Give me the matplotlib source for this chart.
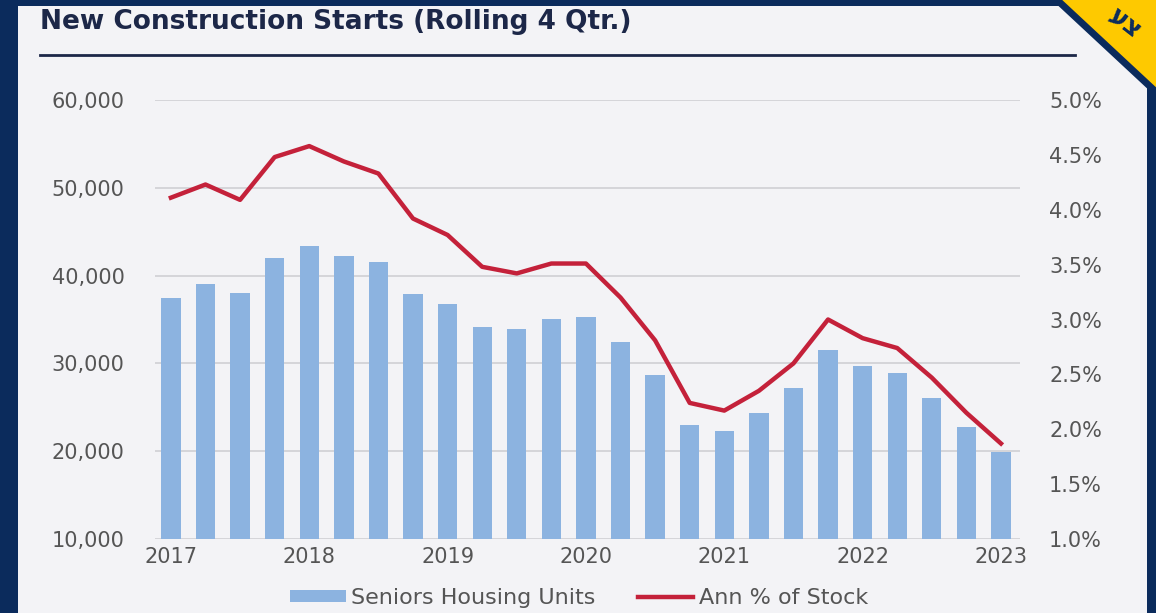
import matplotlib
matplotlib.use("Agg")
import matplotlib.pyplot as plt
from matplotlib.patches import Polygon, Rectangle
from matplotlib.lines import Line2D
import numpy as np

# Rolling four-quarter construction starts, 2017 Q1 - 2023 Q1
quarters = [f"{y}Q{q}" for y in range(2017, 2023) for q in range(1, 5)] + ["2023Q1"]
units = [37500, 39000, 38000, 42000, 43400, 42200, 41500, 37900, 36800,
         34200, 33900, 35100, 35300, 32400, 28700, 23000, 22300, 24400,
         27200, 31500, 29700, 28900, 26100, 22800, 19900]
pct_stock = [4.11, 4.23, 4.09, 4.48, 4.58, 4.44, 4.33, 3.92, 3.77, 3.48,
             3.42, 3.51, 3.51, 3.20, 2.81, 2.24, 2.17, 2.35, 2.60, 3.00,
             2.83, 2.74, 2.47, 2.15, 1.87]
year_labels = ["2017", "2018", "2019", "2020", "2021", "2022", "2023"]
left_ticks = [10000, 20000, 30000, 40000, 50000, 60000]
right_ticks = [1.0, 1.5, 2.0, 2.5, 3.0, 3.5, 4.0, 4.5, 5.0]

NAVY = "#0b2b5c"
PANEL = "#f3f3f6"
BAR = "#8cb3e0"
RED = "#c4213a"
GRID = "#d0d0d4"
TICK = "#555555"
YELLOW = "#fec900"

W, H = 1156, 613
fig = plt.figure(figsize=(W / 100, H / 100), dpi=100)
fig.patch.set_facecolor(NAVY)

def fx(px):
    return px / W

def fy(py):
    return 1 - py / H

# light panel inside the navy frame
fig.patches.append(Rectangle((fx(18), 0), fx(1147 - 18), fy(6), transform=fig.transFigure,
                             facecolor=PANEL, edgecolor="none", zorder=0))

# corner ribbon
corner = Polygon([(fx(1055), fy(0)), (fx(W), fy(0)), (fx(W), fy(90))],
                 closed=True, transform=fig.transFigure, facecolor=YELLOW,
                 edgecolor="none", zorder=1)
fig.patches.append(corner)
fig.lines.append(Line2D([fx(1055), fx(W)], [fy(-2), fy(92)], transform=fig.transFigure,
                        color=NAVY, lw=5, zorder=2))
fig.text(fx(1112), fy(12), "עצ", transform=fig.transFigure, rotation=-38,
         rotation_mode="anchor", fontsize=19, fontweight="bold", color=NAVY,
         ha="left", va="center", family=["DejaVu Sans"], zorder=3)

# title and rule
fig.text(fx(40), fy(22), "New Construction Starts (Rolling 4 Qtr.)", fontsize=19,
         fontweight="bold", color="#1c2748", ha="left", va="center", family="DejaVu Sans")
fig.lines.append(Line2D([fx(40), fx(1075)], [fy(55), fy(55)], transform=fig.transFigure,
                        color="#1c2748", lw=2))

ax = fig.add_axes([fx(155), fy(539), fx(1020 - 155), fy(100) - fy(539)])
ax.set_zorder(5)
ax.set_facecolor("none")
x = np.arange(len(quarters))
ax.bar(x, units, width=0.56, color=BAR, zorder=2, label="Seniors Housing Units")
ax.set_ylim(10000, 60000)
ax.set_xlim(-0.46, len(quarters) - 1 + 0.55)
ax.set_yticks(left_ticks)
ax.set_yticklabels([f"{v:,}" for v in left_ticks])
ax.yaxis.grid(True, color=GRID, lw=1.2, zorder=0)
ax.set_axisbelow(True)
ax.set_xticks(x[::4])
ax.set_xticklabels(year_labels)
for s in ax.spines.values():
    s.set_visible(False)
ax.tick_params(axis="both", length=0, labelsize=15, labelcolor=TICK)
ax.tick_params(axis="y", pad=22)
ax.tick_params(axis="x", pad=6)

ax2 = ax.twinx()
ax2.set_zorder(6)
ax2.set_facecolor("none")
ax2.plot(x, pct_stock, color=RED, lw=3.2, zorder=3, label="Ann % of Stock",
         solid_joinstyle="round")
ax2.set_ylim(1.0, 5.0)
ax2.set_yticks(right_ticks)
ax2.set_yticklabels([f"{v:.1f}%" for v in right_ticks])
for s in ax2.spines.values():
    s.set_visible(False)
ax2.tick_params(axis="y", length=0, labelsize=15, labelcolor=TICK, pad=21)

h1, l1 = ax.get_legend_handles_labels()
h2, l2 = ax2.get_legend_handles_labels()
fig.legend(h1 + h2, l1 + l2, loc="center", bbox_to_anchor=(fx(579), fy(598)), ncol=2,
           frameon=False, fontsize=16, labelcolor=TICK, handlelength=2.5,
           handleheight=0.45, handletextpad=0.25, columnspacing=1.9)

fig.savefig("out.png", dpi=100, facecolor=fig.get_facecolor())
